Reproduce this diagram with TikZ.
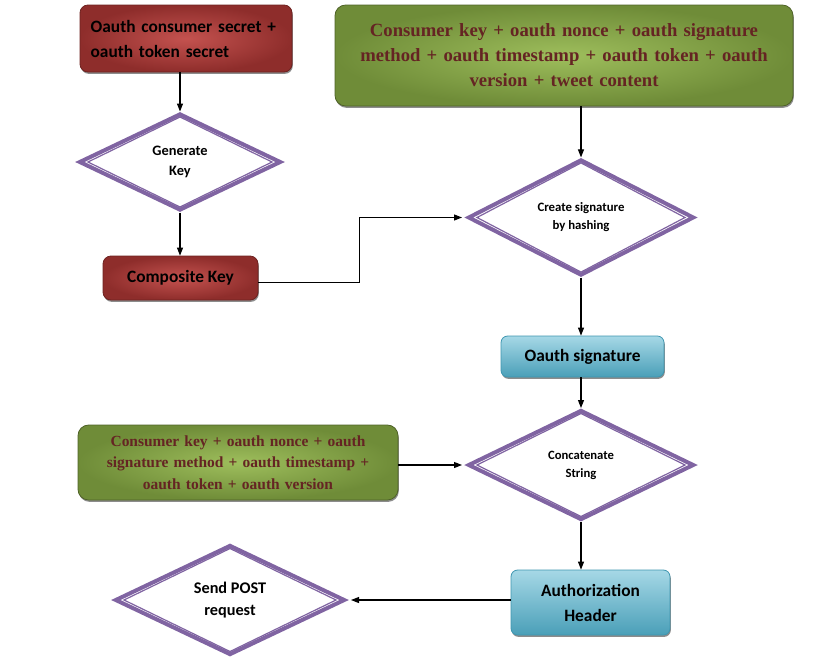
\documentclass[tikz,border=0pt]{standalone}
\usepackage{fontspec}
\newfontfamily\fcal{Carlito}
\newfontfamily\ftnr{Liberation Serif}
\usetikzlibrary{shapes.geometric,arrows.meta,calc,shadows}
\definecolor{dpurple}{HTML}{8064A2}
\definecolor{redin}{HTML}{C4524F}
\definecolor{redout}{HTML}{8E2D2B}
\definecolor{redline}{HTML}{6E2220}
\definecolor{grnin}{HTML}{9EBE5C}
\definecolor{grnout}{HTML}{6F8C38}
\definecolor{grnline}{HTML}{4F6228}
\definecolor{grntext}{HTML}{652423}
\definecolor{blutop}{HTML}{A6D8E6}
\definecolor{blumid}{HTML}{6ABBD0}
\definecolor{blubot}{HTML}{4A9FB8}
\definecolor{bluline}{HTML}{3E96B0}
\begin{document}
\begin{tikzpicture}[x=0.75pt,y=-0.75pt,
  shade/.style={drop shadow={shadow xshift=0.6pt,shadow yshift=-1.4pt,opacity=0.45,fill=black}},
  redbox/.style={rectangle,rounded corners=6pt,draw=redline,line width=0.6pt,inner color=redin,outer color=redout,shade,font=\fcal\bfseries\fontsize{13}{18.75}\selectfont},
  grnbox/.style={rectangle,rounded corners=8pt,draw=grnline,line width=0.6pt,inner color=grnin,outer color=grnout,shade,text=grntext,align=center},
  blubox/.style={rectangle,rounded corners=5pt,draw=bluline,line width=0.6pt,top color=blutop,middle color=blumid,bottom color=blubot,shade,font=\fcal\bfseries\fontsize{13}{18.75}\selectfont,align=center},
  dia/.style={diamond,draw=dpurple,line width=3pt,fill=white,inner sep=0pt,align=center,font=\fcal\bfseries},
  dinner/.style={draw=dpurple,line width=0.9pt},
  arr/.style={-{Triangle[length=6pt,width=4.5pt]},line width=0.8pt,black}]
\path[use as bounding box] (0,0) rectangle (813,657);

% boxes
\node[redbox,minimum width=159pt,minimum height=50.25pt,text width=143pt,inner xsep=8pt,align=left] (r1) at (186,38.5)
  {Oauth consumer secret +\\oauth token secret};
\node[redbox,minimum width=116.25pt,minimum height=33pt] (r2) at (180.5,278) {Composite Key};
\node[grnbox,minimum width=343.5pt,minimum height=75.75pt,text width=320pt,font=\ftnr\bfseries\fontsize{14}{18.75}\selectfont] (g1) at (564,55.5)
  {Consumer key + oauth nonce + oauth signature\\method + oauth timestamp + oauth token + oauth\\version + tweet content};
\node[grnbox,minimum width=240pt,minimum height=56.25pt,text width=225pt,font=\ftnr\bfseries\fontsize{11.6}{16}\selectfont] (g2) at (238,462.5)
  {Consumer key + oauth nonce + oauth\\signature method + oauth timestamp +\\oauth token + oauth version};
\node[blubox,minimum width=122.25pt,minimum height=30.75pt] (b1) at (582.5,356.5) {Oauth signature};
\node[blubox,minimum width=119.25pt,minimum height=48.75pt] (b2) at (590.5,602.5) {Authorization\\Header};

% diamonds
\node[dia,minimum width=151.5pt,minimum height=72.75pt,font=\fcal\bfseries\fontsize{10.8}{15}\selectfont] (d1) at (180,162) {Generate\\Key};
\node[dia,minimum width=169.5pt,minimum height=82.5pt,font=\fcal\bfseries\fontsize{9.6}{13.5}\selectfont] (d2) at (581,217.5) {Create signature\\by hashing};
\node[dia,minimum width=169.5pt,minimum height=82.5pt,font=\fcal\bfseries\fontsize{9.5}{13.5}\selectfont] (d3) at (581,465) {Concatenate\\String};
\node[dia,minimum width=172.5pt,minimum height=82.5pt,font=\fcal\bfseries\fontsize{12.2}{16.5}\selectfont] (d4) at (230,600) {Send POST\\request};

\foreach \d in {d1,d2,d3,d4}{
  \draw[dinner] ($(\d.north)+(0,5.5)$) -- ($(\d.east)+(-11,0)$) -- ($(\d.south)+(0,-5.5)$) -- ($(\d.west)+(11,0)$) -- cycle;
}

% connectors
\draw[arr] (d1.north |- r1.south) -- (d1.north);
\draw[arr] (d1.south) -- (d1.south |- r2.north);
\draw[arr] ([yshift=-3.5pt]r2.east) -- ++(101,0) |- ([xshift=-3pt]d2.west);
\draw[arr] (d2.north |- g1.south) -- (d2.north);
\draw[arr] (d2.south) -- (d2.south |- b1.north);
\draw[arr] (d2.south |- b1.south) -- (d3.north);
\draw[arr] (g2.east |- d3.west) -- ([xshift=-3pt]d3.west);
\draw[arr] (d3.south) -- (d3.south |- b2.north);
\draw[arr] (b2.west |- d4.east) -- ([xshift=3pt]d4.east);
\end{tikzpicture}
\end{document}
